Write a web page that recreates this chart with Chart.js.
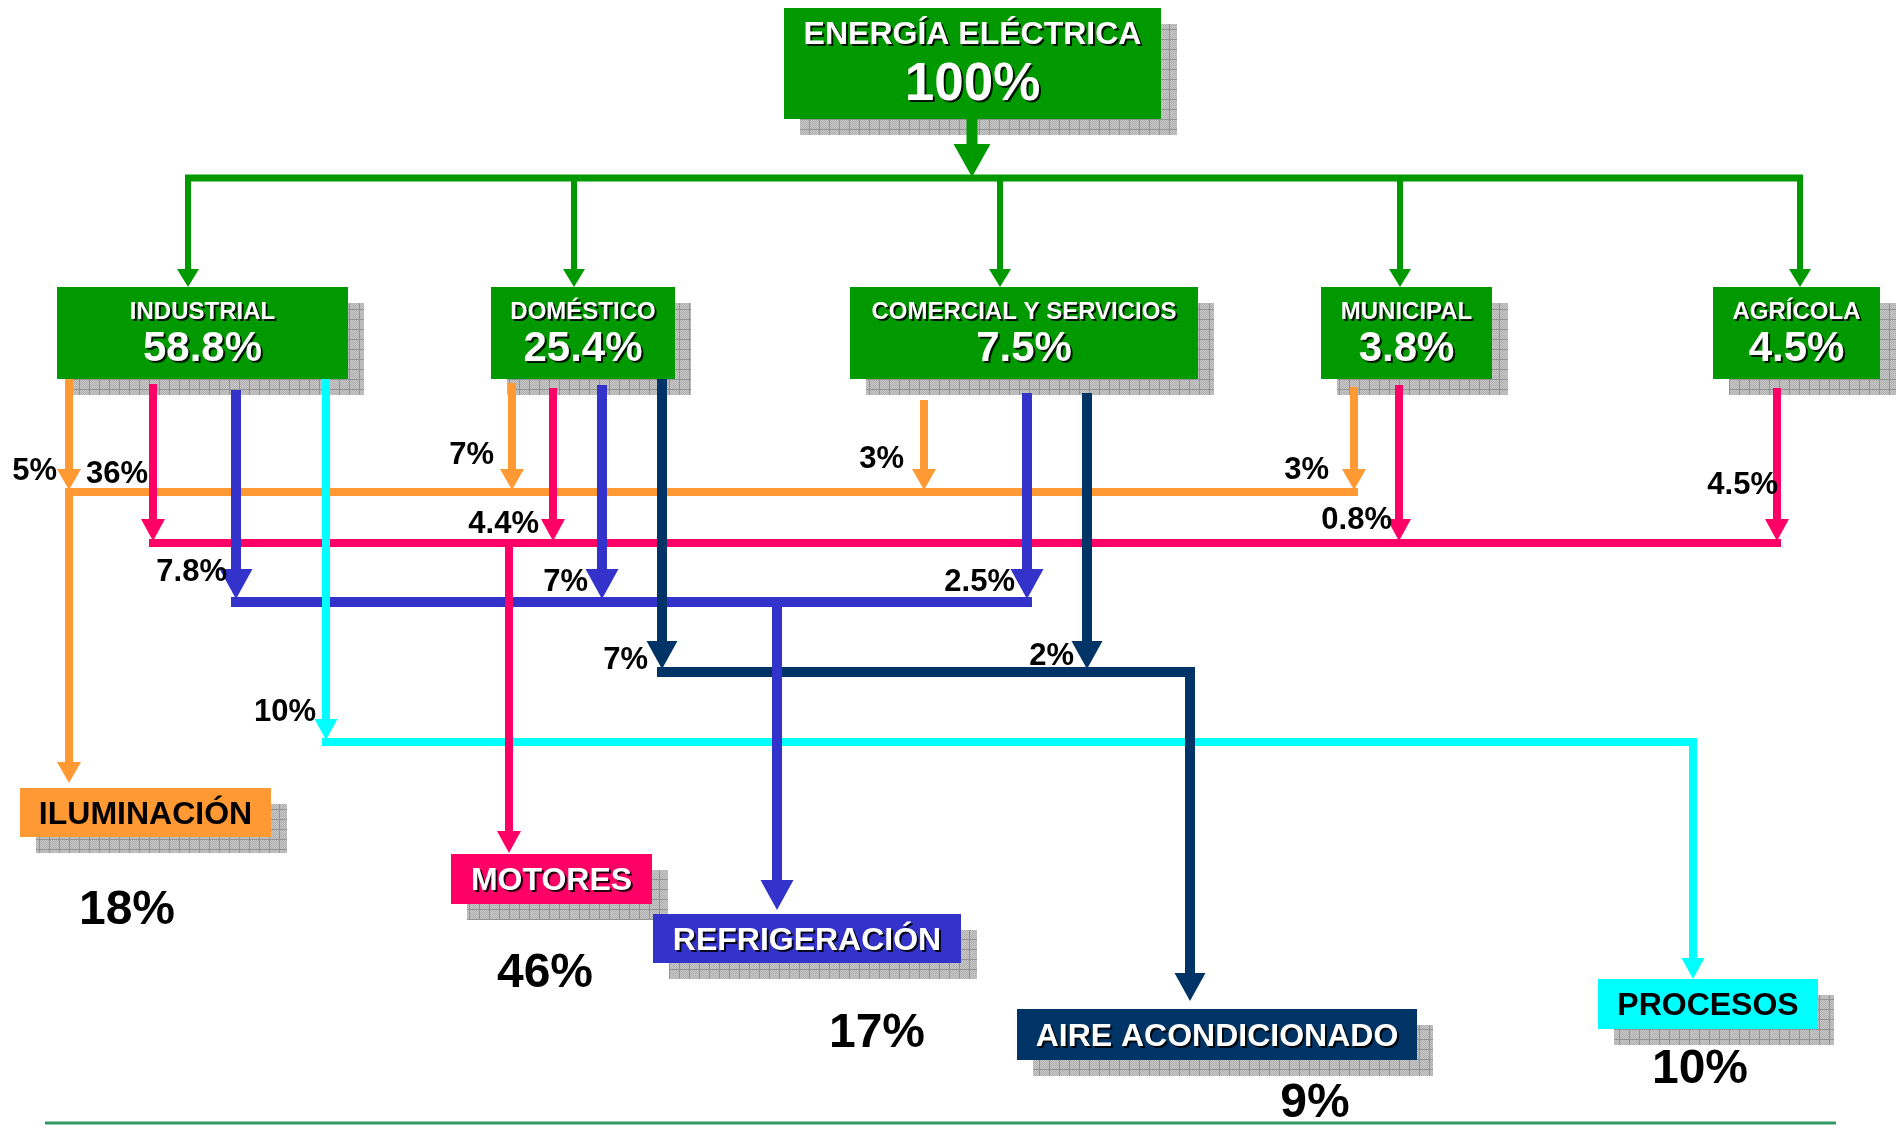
<!DOCTYPE html>
<html lang="es">
<head>
<meta charset="utf-8">
<title>Energía eléctrica por sector y uso final</title>
<script src="https://cdn.jsdelivr.net/npm/chart.js@4/dist/chart.umd.min.js"></script>
<style>
  html, body { margin: 0; padding: 0; background: #fff; }
  #marco { width: 1900px; height: 1126px; position: relative; }
</style>
</head>
<body>
<div id="marco"><canvas id="grafica"></canvas></div>
<script>
// ---- datos ----
var fuente = "ENERGÍA ELÉCTRICA";
var fuenteValor = 100;
var sectores = ["INDUSTRIAL", "DOMÉSTICO", "COMERCIAL Y SERVICIOS", "MUNICIPAL", "AGRÍCOLA"];
var sectoresValor = [58.8, 25.4, 7.5, 3.8, 4.5];
var usos = ["ILUMINACIÓN", "MOTORES", "REFRIGERACIÓN", "AIRE ACONDICIONADO", "PROCESOS"];
var usosValor = [18, 46, 17, 9, 10];
// aporte de cada sector (mismo orden que sectores) a cada uso, null = no hay flujo
var iluminacion = [5, 7, 3, 3, null];
var motores = [36, 4.4, null, 0.8, 4.5];
var refrigeracion = [7.8, 7, 2.5, null, null];
var aire = [null, 7, 2, null, null];
var procesos = [10, null, null, null, null];
var flujos = [iluminacion, motores, refrigeracion, aire, procesos];

// ---- posiciones del diagrama (en unidades de las escalas x 0-1900, y 0-1126) ----
var cajaFuente = [784, 8, 1161, 119];
var cajasSector = [[57, 287, 348, 379], [491, 287, 675, 379], [850, 287, 1198, 379], [1321, 287, 1492, 379], [1713, 287, 1880, 379]];
var cajasUso = [[20, 788, 271, 837], [451, 854, 652, 904], [653, 914, 961, 963], [1017, 1009, 1417, 1060], [1598, 979, 1818, 1029]];
var valorUsoPos = [[127, 907], [545, 970], [877, 1030], [1315, 1100], [1700, 1066]];
var sombra = 16;
var busVerde = 178;
var bajadasVerdes = [188, 574, 1000, 1400, 1800];
var busY = [492, 543, 602, 672, 742];
var caidaX = [[69, 512, 924, 1354, null], [153, 553, null, 1399, 1777], [236, 602, 1027, null, null], [null, 662, 1087, null, null], [326, null, null, null, null]];
var caidaInicio = [[379, 383, 400, 387, null], [384, 388, null, 385, 388], [390, 385, 393, null, null], [null, 379, 393, null, null], [379, null, null, null, null]];
var etiquetaPos = [
    [[57, 469], [494, 453], [904, 457], [1329, 468], null],
    [[148, 472], [539, 522], null, [1392, 518], [1778, 483]],
    [[227, 570], [588, 580], [1015, 580], null, null],
    [null, [648, 658], [1074, 654], null, null],
    [[316, 710], null, null, null, null]
];
var salidaX = [69, 509, 777, 1190, 1693];
var salidaFin = [783, 853, 910, 1001, 979];

// ---- estilos ----
var verde = "#009900";
var colores = ["#FF9933", "#FF0066", "#3333CC", "#003366", "#00FFFF"];
var textoCaja = ["#000000", "#FFFFFF", "#FFFFFF", "#FFFFFF", "#000000"];
var anchoLinea = [8, 8, 10, 10, 8];
var punta = [[24, 21], [24, 22], [33, 30], [31, 28], [23, 21]];
var fuenteTxt = '"Liberation Sans", Arial, sans-serif';

function linea(puntos, color, ancho, orden) {
    return {
        data: puntos,
        borderColor: color,
        backgroundColor: color,
        borderWidth: ancho,
        showLine: true,
        pointRadius: 0,
        pointHoverRadius: 0,
        fill: false,
        tension: 0,
        borderCapStyle: 'butt',
        borderJoinStyle: 'miter',
        order: orden
    };
}

var datasets = [];
// flecha principal y colector verde
datasets.push(linea([{x: 972, y: cajaFuente[3]}, {x: 972, y: 146}], verde, 11, 3));
datasets.push(linea([{x: bajadasVerdes[0] - 3, y: busVerde}, {x: bajadasVerdes[4] + 3, y: busVerde}], verde, 7, 3));
bajadasVerdes.forEach(function(x) {
    datasets.push(linea([{x: x, y: busVerde - 3}, {x: x, y: 287 - 17}], verde, 6, 3));
});

// flujos de cada uso final
flujos.forEach(function(fila, u) {
    var w = anchoLinea[u];
    var c = colores[u];
    var xs = [salidaX[u]];
    fila.forEach(function(v, s) {
        if (v === null) return;
        var x = caidaX[u][s];
        xs.push(x);
        datasets.push(linea([{x: x, y: caidaInicio[u][s]}, {x: x, y: busY[u] - w / 2 - punta[u][1] + 3}], c, w, 1));
    });
    datasets.push(linea([{x: Math.min.apply(null, xs) - w / 2, y: busY[u]}, {x: Math.max.apply(null, xs) + w / 2, y: busY[u]}], c, w, 2));
    datasets.push(linea([{x: salidaX[u], y: busY[u] - w / 2}, {x: salidaX[u], y: salidaFin[u] - punta[u][1] + 2}], c, w, 1));
});

// linea inferior
datasets.push(linea([{x: 45, y: 1123}, {x: 1836, y: 1123}], "#339966", 3, 4));

// patron de la sombra de las cajas
function patronSombra(ctx) {
    var p = document.createElement('canvas');
    p.width = 10; p.height = 10;
    var g = p.getContext('2d');
    g.fillStyle = '#c6c6c6';
    g.fillRect(0, 0, 10, 10);
    g.fillStyle = '#b2b2b2';
    for (var i = 0; i < 10; i++) {
        for (var j = 0; j < 10; j++) {
            if ((i + j) % 2 === 0) g.fillRect(i, j, 1, 1);
        }
    }
    g.fillStyle = '#949494';
    g.fillRect(9, 0, 1, 10);
    g.fillRect(0, 9, 10, 1);
    return ctx.createPattern(p, 'repeat');
}

var dibujoCajas = {
    id: 'cajas',
    beforeDatasetsDraw: function(chart) {
        var ctx = chart.ctx;
        var sx = chart.scales.x, sy = chart.scales.y;
        var todas = [cajaFuente].concat(cajasSector, cajasUso);
        ctx.save();
        ctx.fillStyle = patronSombra(ctx);
        todas.forEach(function(b) {
            var x0 = sx.getPixelForValue(b[0] + sombra), x1 = sx.getPixelForValue(b[2] + sombra);
            var y0 = sy.getPixelForValue(b[1] + sombra), y1 = sy.getPixelForValue(b[3] + sombra);
            ctx.fillRect(x0, y0, x1 - x0, y1 - y0);
        });
        ctx.restore();
    },
    afterDatasetsDraw: function(chart) {
        var ctx = chart.ctx;
        var sx = chart.scales.x, sy = chart.scales.y;
        var X = function(v) { return sx.getPixelForValue(v); };
        var Y = function(v) { return sy.getPixelForValue(v); };

        function caja(b, color) {
            ctx.fillStyle = color;
            ctx.fillRect(X(b[0]), Y(b[1]), X(b[2]) - X(b[0]), Y(b[3]) - Y(b[1]));
        }
        function texto(t, x, yc, size, color, align, conSombra) {
            ctx.save();
            ctx.font = 'bold ' + size + 'px ' + fuenteTxt;
            ctx.textAlign = align || 'center';
            ctx.textBaseline = 'alphabetic';
            ctx.fillStyle = color;
            if (conSombra) {
                ctx.shadowColor = 'rgba(0,0,0,0.85)';
                ctx.shadowOffsetX = 2;
                ctx.shadowOffsetY = 2;
                ctx.shadowBlur = 0;
            }
            ctx.fillText(t, X(x), Y(yc) + 0.358 * size);
            ctx.restore();
        }
        function triangulo(x, yPunta, ancho, alto, color) {
            ctx.fillStyle = color;
            ctx.beginPath();
            ctx.moveTo(X(x), Y(yPunta));
            ctx.lineTo(X(x - ancho / 2), Y(yPunta - alto));
            ctx.lineTo(X(x + ancho / 2), Y(yPunta - alto));
            ctx.closePath();
            ctx.fill();
        }

        ctx.save();
        // caja principal
        caja(cajaFuente, verde);
        var cx = (cajaFuente[0] + cajaFuente[2]) / 2;
        texto(fuente, cx, cajaFuente[1] + 25, 32, '#FFFFFF', 'center', true);
        texto(fuenteValor + '%', cx, cajaFuente[1] + 73, 53, '#FFFFFF', 'center', true);
        triangulo(972, 177, 37, 33, verde);

        // sectores
        sectores.forEach(function(nombre, i) {
            var b = cajasSector[i];
            triangulo(bajadasVerdes[i], b[1], 22, 18, verde);
            caja(b, verde);
            var c = (b[0] + b[2]) / 2;
            texto(nombre, c, b[1] + 23, 24, '#FFFFFF', 'center', true);
            texto(sectoresValor[i] + '%', c, b[1] + 59, 42, '#FFFFFF', 'center', true);
        });

        // puntas de flecha y porcentajes de cada flujo
        flujos.forEach(function(fila, u) {
            var w = anchoLinea[u];
            fila.forEach(function(v, s) {
                if (v === null) return;
                triangulo(caidaX[u][s], busY[u] - w / 2 + 2, punta[u][0], punta[u][1], colores[u]);
                var e = etiquetaPos[u][s];
                texto(v + '%', e[0], e[1], 31, '#000000', 'right', false);
            });
            triangulo(salidaX[u], salidaFin[u], punta[u][0], punta[u][1], colores[u]);
        });

        // usos finales
        usos.forEach(function(nombre, i) {
            var b = cajasUso[i];
            caja(b, colores[i]);
            texto(nombre, (b[0] + b[2]) / 2, (b[1] + b[3]) / 2, 32, textoCaja[i], 'center', textoCaja[i] === '#FFFFFF');
            texto(usosValor[i] + '%', valorUsoPos[i][0], valorUsoPos[i][1], 48, '#000000', 'center', false);
        });
        ctx.restore();
    }
};

var ctx = document.getElementById("grafica").getContext('2d');
var grafica = new Chart(ctx, {
    type: "scatter",
    data: { datasets: datasets },
    options: {
        responsive: true,
        maintainAspectRatio: false,
        animation: false,
        events: [],
        layout: { padding: 0 },
        plugins: { legend: { display: false }, tooltip: { enabled: false } },
        scales: {
            x: { type: 'linear', min: 0, max: 1900, display: false },
            y: { type: 'linear', min: 0, max: 1126, reverse: true, display: false }
        }
    },
    plugins: [dibujoCajas]
});
</script>
</body>
</html>
